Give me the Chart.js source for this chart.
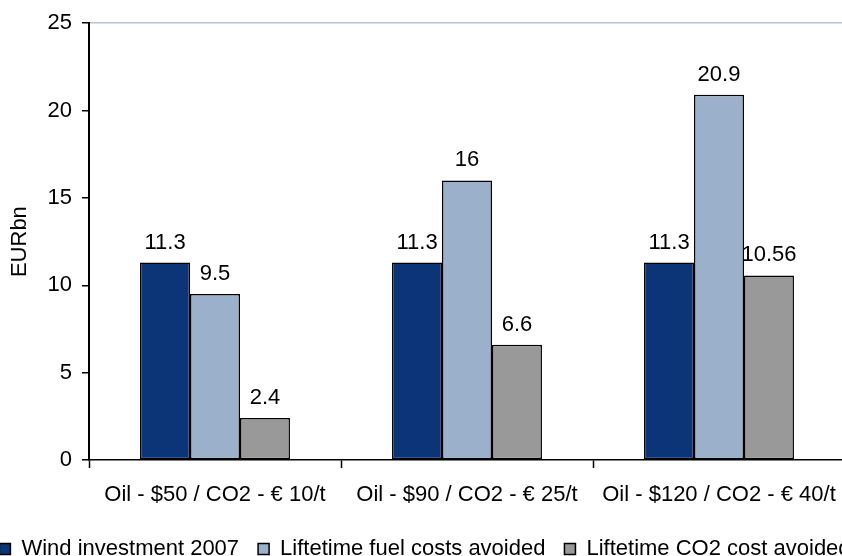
<!DOCTYPE html>
<html>
<head>
<meta charset="utf-8">
<script src="https://cdn.jsdelivr.net/npm/chart.js@4"></script>
<style>
  html, body { margin: 0; padding: 0; background: #fff; overflow: hidden; }
  #wrap { width: 900px; height: 570px; position: relative; margin-left: -30px; }
</style>
</head>
<body>
<div id="wrap"><canvas id="chart"></canvas></div>
<script>
// Scenario categories and bar values (EUR bn)
const scenarios = ['Oil - $50 / CO2 - \u20AC 10/t', 'Oil - $90 / CO2 - \u20AC 25/t', 'Oil - $120 / CO2 - \u20AC 40/t'];
const windInvestment = [11.3, 11.3, 11.3];
const fuelAvoided = [9.5, 16, 20.9];
const co2Avoided = [2.4, 6.6, 10.56];
const yTicks = [0, 5, 10, 15, 20, 25];

const FONT = "'Liberation Sans', Arial, sans-serif";
const SIZE = 22;

// Writes each bar's value just above it
const valueLabels = {
    id: 'valueLabels',
    afterDatasetsDraw(chart) {
        const ctx = chart.ctx;
        ctx.save();
        ctx.font = SIZE + 'px ' + FONT;
        ctx.fillStyle = '#000';
        ctx.textAlign = 'center';
        ctx.textBaseline = 'alphabetic';
        chart.data.datasets.forEach((ds, i) => {
            chart.getDatasetMeta(i).data.forEach((bar, j) => {
                ctx.fillText(String(ds.data[j]), bar.x, bar.y - 14);
            });
        });
        ctx.restore();
    }
};

const ctx = document.getElementById('chart').getContext('2d');
new Chart(ctx, {
    type: 'bar',
    data: {
        labels: scenarios,
        datasets: [
            { label: 'Wind investment 2007', data: windInvestment, backgroundColor: '#0b3577' },
            { label: 'Liftetime fuel costs avoided', data: fuelAvoided, backgroundColor: '#9bb0cb' },
            { label: 'Liftetime CO2 cost avoided', data: co2Avoided, backgroundColor: '#999999' }
        ].map(d => Object.assign(d, {
            borderColor: '#000',
            borderWidth: 1.5,
            borderSkipped: false,
            barPercentage: 1.0,
            categoryPercentage: 0.595
        }))
    },
    options: {
        responsive: true,
        maintainAspectRatio: false,
        animation: false,
        layout: { padding: { top: 22, right: 0, left: 10, bottom: 0 } },
        plugins: {
            legend: {
                position: 'bottom',
                labels: {
                    font: { family: FONT, size: SIZE },
                    color: '#000',
                    boxWidth: 11,
                    boxHeight: 11,
                    padding: 19,
                    generateLabels(chart) {
                        return chart.data.datasets.map((ds, i) => ({
                            text: ds.label,
                            fillStyle: ds.backgroundColor,
                            strokeStyle: '#000',
                            lineWidth: 1.5,
                            fontColor: '#000',
                            datasetIndex: i
                        }));
                    }
                }
            },
            tooltip: { enabled: false }
        },
        scales: {
            x: {
                afterFit(scale) {
                    scale.height = 59;
                },
                grid: {
                    offset: true,
                    drawOnChartArea: false,
                    tickLength: 8,
                    tickColor: '#000',
                    tickWidth: 1.5
                },
                border: { color: '#000', width: 1.5 },
                ticks: {
                    font: { family: FONT, size: SIZE },
                    color: '#000',
                    padding: 14,
                    maxRotation: 0
                }
            },
            y: {
                min: 0,
                max: 25,
                afterBuildTicks(scale) {
                    scale.ticks = yTicks.map(v => ({ value: v }));
                },
                afterFit(scale) {
                    scale.width = 109;
                },
                grid: {
                    color: c => (c.tick && c.tick.value === 25 ? '#b8c3ce' : 'rgba(0,0,0,0)'),
                    lineWidth: 1.5,
                    tickLength: 7,
                    tickColor: '#000',
                    tickWidth: 1.5
                },
                border: { color: '#000', width: 2 },
                ticks: {
                    font: { family: FONT, size: SIZE },
                    color: '#000',
                    padding: 10
                },
                title: {
                    display: true,
                    text: 'EURbn',
                    font: { family: FONT, size: 22 },
                    color: '#000',
                    padding: { top: 27, bottom: 0 }
                }
            },
            // empty strip on the right so the legend row can run wider than the plot
            spacer: {
                type: 'linear',
                position: 'right',
                grid: { display: false },
                border: { display: false },
                ticks: { display: false },
                afterFit(scale) {
                    scale.width = 25;
                }
            }
        }
    },
    plugins: [valueLabels]
});
</script>
</body>
</html>
